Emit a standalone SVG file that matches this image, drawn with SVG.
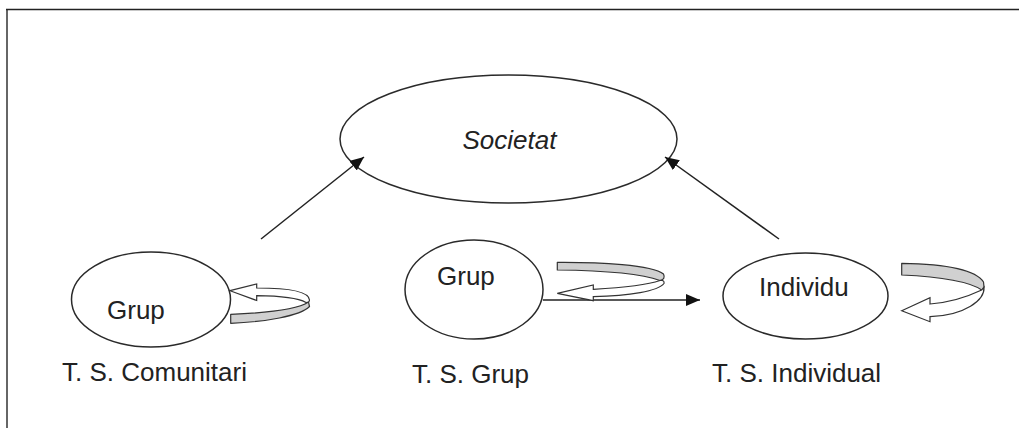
<svg xmlns="http://www.w3.org/2000/svg" width="1019" height="428" viewBox="0 0 1019 428">
<style>
.node{fill:#fff;stroke:#2a2a2a;stroke-width:1.5}
.lbl{font-family:"Liberation Sans",Arial,sans-serif;font-size:26px;fill:#222}
.conn{stroke:#222;stroke-width:1.5;fill:none}
.band{fill:#d0d0d0;stroke:#333;stroke-width:1.2;stroke-linejoin:round}
.arrowband{fill:#fff;stroke:#333;stroke-width:1.2;stroke-linejoin:miter}
</style>
<defs>
<marker id="ah" markerUnits="userSpaceOnUse" markerWidth="15" markerHeight="13" refX="14" refY="6" orient="auto">
<path d="M0,0 L14,6 L0,12 Z" fill="#111"/>
</marker>
</defs>
<rect x="0" y="0" width="1019" height="428" fill="#fff"/>
<g id="frame">
<line x1="7" y1="9" x2="7" y2="428" stroke="#666" stroke-width="2"/>
<line x1="6" y1="9.5" x2="1019" y2="9.5" stroke="#222" stroke-width="1.5"/>
</g>
<g id="societat">
<ellipse class="node" cx="508.5" cy="139" rx="168.5" ry="64"/>
<text class="lbl" x="509.5" y="149" text-anchor="middle" font-style="italic">Societat</text>
</g>
<g id="grup-comunitari">
<ellipse class="node" cx="151" cy="299.5" rx="79.5" ry="47.5"/>
<text class="lbl" x="107" y="319">Grup</text>
<text class="lbl" x="62" y="381">T. S. Comunitari</text>
</g>
<g id="grup-grup">
<ellipse class="node" cx="474" cy="289.5" rx="69" ry="49.5"/>
<text class="lbl" x="437" y="285">Grup</text>
<text class="lbl" x="412" y="383">T. S. Grup</text>
</g>
<g id="individu">
<ellipse class="node" cx="805.5" cy="296" rx="82.5" ry="43"/>
<text class="lbl" x="759" y="296">Individu</text>
<text class="lbl" x="712" y="382">T. S. Individual</text>
</g>
<g id="connectors">
<line class="conn" x1="261" y1="239" x2="364" y2="157" marker-end="url(#ah)"/>
<line class="conn" x1="779" y1="239" x2="665" y2="157" marker-end="url(#ah)"/>
<line class="conn" x1="543" y1="300" x2="700" y2="300" marker-end="url(#ah)"/>
</g>
<g id="loop-comunitari">
<path class="band" d="M230.7,314.3 C265,313 298,309 308.5,302 L309.5,306.5 C300,316 265,322 230.7,323.3 Z"/>
<path class="arrowband" d="M230,290.7 L256.7,284 L256.7,288 C285,288 309,291 309.5,300 C309.5,302 308,302.5 306,302.5 C298,298 280,296 256.7,295.7 L256.7,300.5 Z"/>
</g>
<g id="loop-grup">
<path class="band" d="M557.3,262.3 C600,262 652,265 663.5,274 C665,277 664,280 660,280.5 C640,273 600,270.5 557.3,270 Z"/>
<path class="arrowband" d="M557.3,293.3 L593.3,285 L593.3,289.3 C625,287.5 650,284 660,280.5 C663,280 664.5,281 664,283.5 C658,291 630,296 593.3,296.7 L593.3,300.7 Z"/>
</g>
<g id="loop-individu">
<path class="band" d="M901.7,263.3 C945,264 976,270 983.5,282 L984,287 C983,289 982.5,290 981.7,290 C970,282 945,277 901.7,275 Z"/>
<path class="arrowband" d="M901.7,310.7 L930,297.7 L930,304 C950,302.5 968,296.5 981.7,290 L984,287 C985,300 965,315.5 930,316.7 L930,321.7 Z"/>
</g>
</svg>
